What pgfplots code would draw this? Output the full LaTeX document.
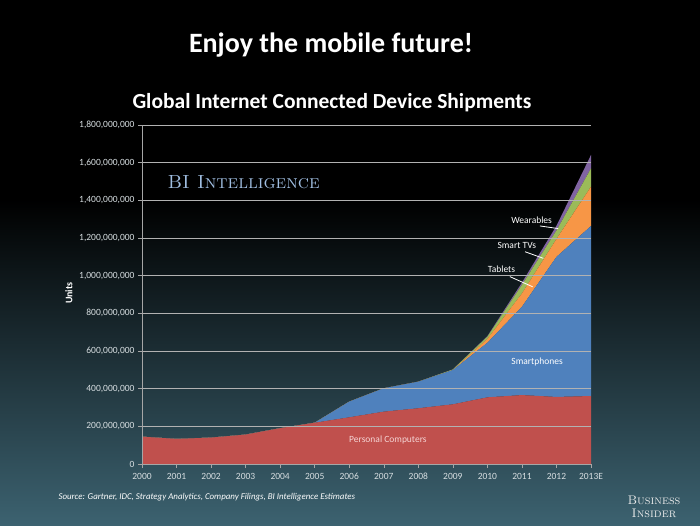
\documentclass[border=0pt]{standalone}
\usepackage{pgfplots}
\usepackage{pgfplotstable}
\pgfplotsset{compat=1.18}
\usepackage{fontspec}
\setsansfont{Carlito}

\definecolor{pcred}{RGB}{192,80,77}
\definecolor{spblue}{RGB}{79,129,189}
\definecolor{taborange}{RGB}{247,150,70}
\definecolor{tvgreen}{RGB}{155,187,89}
\definecolor{wearpurple}{RGB}{128,100,162}
\definecolor{bgbot}{RGB}{60,98,112}
\definecolor{ticktxt}{RGB}{215,222,225}
\definecolor{bilogo}{RGB}{160,190,225}
\definecolor{pclabel}{RGB}{245,212,212}

% shipments in millions of units
\pgfplotstableread{
year pc  sp  tab tv wear
2000 145 0   0   0  0
2001 133 0   0   0  0
2002 140 0   0   0  0
2003 156 0   0   0  0
2004 190 0   0   0  0
2005 219 0   0   0  0
2006 248 83  0   0  0
2007 278 124 0   0  0
2008 296 141 0   0  0
2009 317 182 0   3  0
2010 354 290 20  12 3
2011 366 469 71  45 12
2012 356 744 95  45 25
2013 361 903 209 97 71
}\shipments

\begin{document}
\begin{tikzpicture}[x=1pt,y=1pt]
  % slide background
  \fill[black] (0,325) rectangle (700,525);
  \shade[top color=black, bottom color=bgbot] (0,0) rectangle (700,325.5);

  \node[font=\sffamily\bfseries\fontsize{28}{32}\selectfont, white] at (331,480) {Enjoy the mobile future!};
  \node[font=\sffamily\bfseries\fontsize{21.5}{25}\selectfont, white] at (332,422) {Global Internet Connected Device Shipments};

  \begin{axis}[
      at={(142pt,61pt)}, anchor=south west,
      width=449pt, height=339pt, scale only axis,
      xmin=2000, xmax=2013,
      ymin=0, ymax=1800,
      xtick={2000,2001,2002,2003,2004,2005,2006,2007,2008,2009,2010,2011,2012,2013},
      xticklabels={2000,2001,2002,2003,2004,2005,2006,2007,2008,2009,2010,2011,2012,2013E},
      ytick={0,200,...,1800},
      yticklabels={0,{200,000,000},{400,000,000},{600,000,000},{800,000,000},{1,000,000,000},{1,200,000,000},{1,400,000,000},{1,600,000,000},{1,800,000,000}},
      axis x line*=bottom, axis y line*=left,
      axis line style={gray!70, -},
      tick style={gray!70, thin},
      tick align=outside, major tick length=4pt,
      ymajorgrids, grid style={gray!60, line width=0.6pt},
      ticklabel style={font=\sffamily\fontsize{9.5}{11}\selectfont, text=ticktxt},
      /pgf/number format/assume math mode=true,
      xticklabel style={anchor=base, yshift=-11pt},
      stack plots=y, area style,
      clip=false,
    ]
    \addplot[fill=pcred, draw=none] table[x=year, y=pc] {\shipments} \closedcycle;
    \addplot[fill=spblue, draw=none] table[x=year, y=sp] {\shipments} \closedcycle;
    \addplot[fill=taborange, draw=none] table[x=year, y=tab] {\shipments} \closedcycle;
    \addplot[fill=tvgreen, draw=none] table[x=year, y=tv] {\shipments} \closedcycle;
    \addplot[fill=wearpurple, draw=none] table[x=year, y=wear] {\shipments} \closedcycle;

    \coordinate (pcl) at (axis cs:2007.12,127);
    \coordinate (spl) at (axis cs:2011.44,542);
    \coordinate (tabl) at (axis cs:2010.41,1035);
    \coordinate (tvl) at (axis cs:2010.85,1158);
    \coordinate (wearl) at (axis cs:2011.28,1292);
    \coordinate (tab1) at (axis cs:2010.65,995);
    \coordinate (tab2) at (axis cs:2011.31,941);
    \coordinate (tv1) at (axis cs:2011.09,1127);
    \coordinate (tv2) at (axis cs:2011.62,1092);
    \coordinate (wear1) at (axis cs:2011.52,1264);
    \coordinate (wear2) at (axis cs:2012.05,1250);
  \end{axis}

  % series labels
  \node[font=\sffamily\fontsize{9.5}{11}\selectfont, pclabel] at (pcl) {Personal Computers};
  \node[font=\sffamily\fontsize{9.5}{11}\selectfont, white] at (spl) {Smartphones};
  \node[font=\sffamily\fontsize{9.5}{11}\selectfont, white] at (tabl) {Tablets};
  \node[font=\sffamily\fontsize{9.5}{11}\selectfont, white] at (tvl) {Smart TVs};
  \node[font=\sffamily\fontsize{9.5}{11}\selectfont, white] at (wearl) {Wearables};
  \draw[white, line width=0.8pt] (tab1) -- (tab2);
  \draw[white, line width=0.8pt] (tv1) -- (tv2);
  \draw[white, line width=0.8pt] (wear1) -- (wear2);

  \node[font=\sffamily\bfseries\fontsize{10}{12}\selectfont, white, rotate=90] at (69,232) {Units};
  \node[font=\rmfamily\fontsize{19}{22}\selectfont, bilogo, anchor=base west] at (164,336.7) {\textsc{BI Intelligence}};
  \node[font=\sffamily\itshape\fontsize{8.9}{10}\selectfont, white, anchor=west] at (55,28) {Source: Gartner, IDC, Strategy Analytics, Company Filings, BI Intelligence Estimates};
  \node[font=\rmfamily\fontsize{12.5}{14}\selectfont, gray!15, align=center, inner sep=0pt] at (654,18) {\textsc{Business}\\[-1pt]\textsc{Insider}};

  \pgfresetboundingbox
  \useasboundingbox (0,0) rectangle (700,525);
\end{tikzpicture}
\end{document}
